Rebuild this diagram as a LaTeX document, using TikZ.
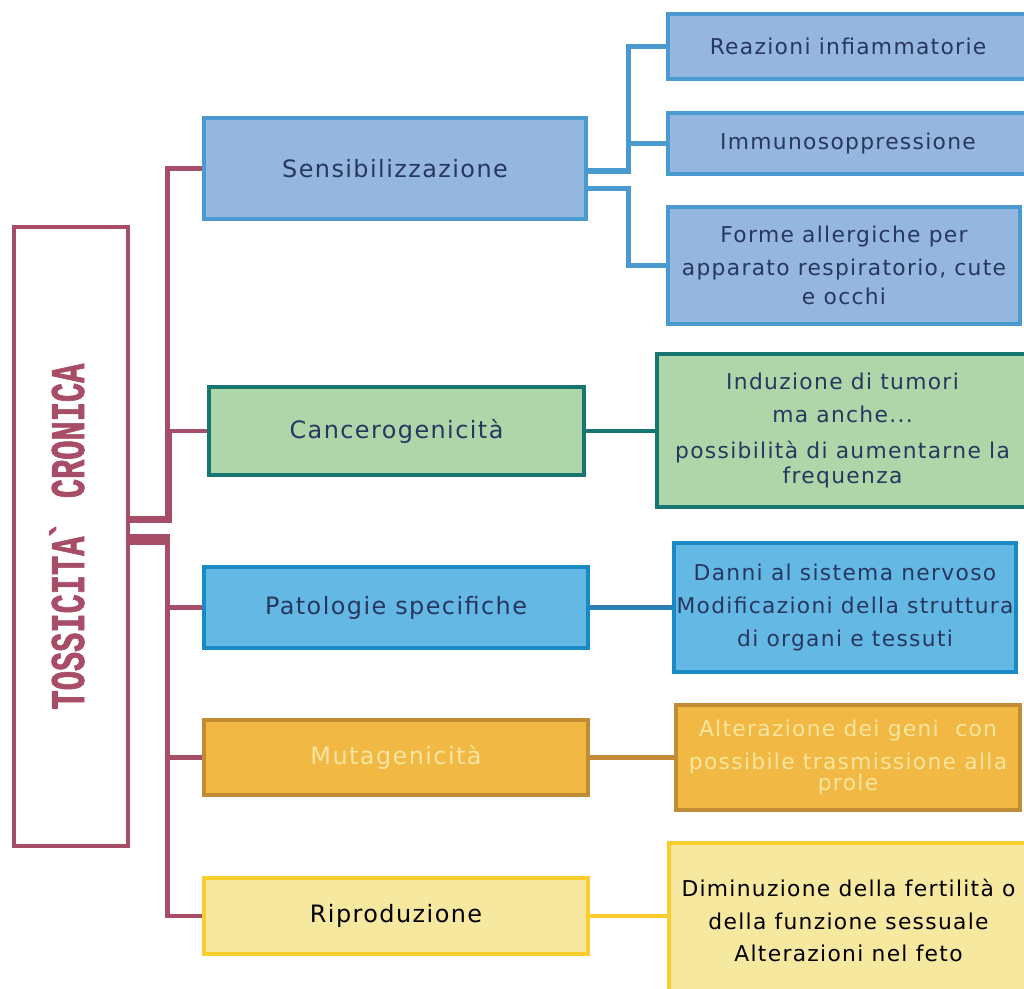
\documentclass[tikz,border=0pt]{standalone}
\usepackage{fontspec}
\setmainfont{DejaVu Sans}
\newfontfamily\blockfont{DejaVu Sans}[LetterSpace=6]
\newfontfamily\leaffont{DejaVu Sans}[LetterSpace=6]
\newfontfamily\titlefont{Liberation Mono Bold}[FakeStretch=0.66, FakeBold=1.2]
\usetikzlibrary{positioning}

\definecolor{maroon}{RGB}{168,77,104}
\definecolor{navy}{RGB}{40,55,95}
\definecolor{sensfill}{RGB}{149,182,223}
\definecolor{sensline}{RGB}{74,154,208}
\definecolor{cancfill}{RGB}{174,214,168}
\definecolor{cancline}{RGB}{23,118,111}
\definecolor{patofill}{RGB}{100,185,228}
\definecolor{patoline}{RGB}{26,138,196}
\definecolor{patolink}{RGB}{46,125,181}
\definecolor{mutafill}{RGB}{241,184,67}
\definecolor{mutaline}{RGB}{194,140,55}
\definecolor{mutatext}{RGB}{248,230,160}
\definecolor{riprfill}{RGB}{247,232,159}
\definecolor{riprline}{RGB}{249,206,44}

\tikzstyle{block} = [draw, rectangle, line width=3.2pt, inner sep=0pt, font=\blockfont\fontsize{17}{20}\selectfont]
\tikzstyle{leaf} = [draw, rectangle, line width=3.2pt, inner sep=0pt, align=center, font=\leaffont\fontsize{15.5}{23.4}\selectfont]
\tikzstyle{link} = [line width=3.2pt]
\tikzstyle{sensib} = [fill=sensfill, draw=sensline, text=navy]
\tikzstyle{cancer} = [fill=cancfill, draw=cancline, text=navy]
\tikzstyle{patol} = [fill=patofill, draw=patoline, text=navy]
\tikzstyle{mutag} = [fill=mutafill, draw=mutaline, text=mutatext]
\tikzstyle{riprod} = [fill=riprfill, draw=riprline, text=black]

\begin{document}
\begin{tikzpicture}[x=0.025cm, y=-0.025cm]
  \useasboundingbox (0,0) rectangle (1024,988);
  % root
  \node[draw=maroon, line width=3.2pt, minimum width=114*0.025cm, minimum height=619*0.025cm, inner sep=0pt, text=maroon] (root) at (71,536.5)
    {\rotatebox{90}{\titlefont\fontsize{34.5}{40}\selectfont TOSSICITA\kern-0.08em`\kern0.08em{} CRONICA}\kern0.2cm};
  % first level
  \node[block, sensib, minimum width=382*0.025cm, minimum height=101*0.025cm] (sens) at (395,168.5) {Sensibilizzazione};
  \node[block, cancer, minimum width=375*0.025cm, minimum height=88*0.025cm] (canc) at (396.5,431) {Cancerogenicità};
  \node[block, patol, minimum width=384*0.025cm, minimum height=81*0.025cm] (pato) at (396,607.5) {Patologie specifiche};
  \node[block, mutag, minimum width=384*0.025cm, minimum height=75*0.025cm] (muta) at (396,757.5) {Mutagenicità};
  \node[block, riprod, minimum width=384*0.025cm, minimum height=76*0.025cm] (ripr) at (396,916) {Riproduzione};
  % second level
  \node[leaf, sensib, minimum width=360*0.025cm, minimum height=65*0.025cm] (reaz) at (848,46.5) {Reazioni infiammatorie};
  \node[leaf, sensib, minimum width=360*0.025cm, minimum height=61*0.025cm] (immu) at (848,143.5) {Immunosoppressione};
  \node[leaf, sensib, minimum width=352*0.025cm, minimum height=117*0.025cm] (form) at (844,265.5)
    {Forme allergiche per\\apparato respiratorio, cute\\[-3pt]e occhi};
  \node[leaf, cancer, minimum width=371*0.025cm, minimum height=153*0.025cm] (indu) at (842.5,430.5)
    {Induzione di tumori\\ma anche...\\[2pt]possibilità di aumentarne la\\[-6pt]frequenza};
  \node[leaf, patol, minimum width=342*0.025cm, minimum height=129*0.025cm] (dann) at (845,607.5)
    {Danni al sistema nervoso\\Modificazioni della struttura\\di organi e tessuti};
  \node[leaf, mutag, minimum width=344*0.025cm, minimum height=105*0.025cm] (alte) at (848,757.5)
    {Alterazione dei geni\ \ con\\possibile trasmissione alla\\[-8pt]prole};
  \node[leaf, riprod, minimum width=359*0.025cm, minimum height=155*0.025cm] (dimi) at (848.5,920.5)
    {Diminuzione della fertilità o\\della funzione sessuale\\Alterazioni nel feto};
  % root connectors
  \draw[link, maroon] (root.east) ++(0,-18) -- ++(37,0) |- (sens.west);
  \draw[link, maroon] (root.east) ++(0,-16) -- ++(39,0) |- (canc.west);
  \draw[link, maroon] (root.east) ++(0,0) -- ++(37,0) |- (pato.west);
  \draw[link, maroon] (root.east) ++(0,4) -- ++(37,0) |- (muta.west);
  \draw[link, maroon] (root.east) ++(0,6) -- ++(37,0) |- (ripr.west);
  % sensibilizzazione connectors
  \draw[link, sensline] (sens.east) ++(0,1.5) -- ++(40,0) |- (reaz.west);
  \draw[link, sensline] (sens.east) ++(0,3) -- ++(40,0) |- (immu.west);
  \draw[link, sensline] (sens.east) ++(0,20) -- ++(40,0) |- (form.west);
  % other connectors
  \draw[link, cancline] (canc.east) -- (canc.east -| indu.west);
  \draw[link, patolink] (pato.east) -- (pato.east -| dann.west);
  \draw[link, mutaline] (muta.east) -- (muta.east -| alte.west);
  \draw[link, riprline] (ripr.east) -- (ripr.east -| dimi.west);
\end{tikzpicture}
\end{document}
